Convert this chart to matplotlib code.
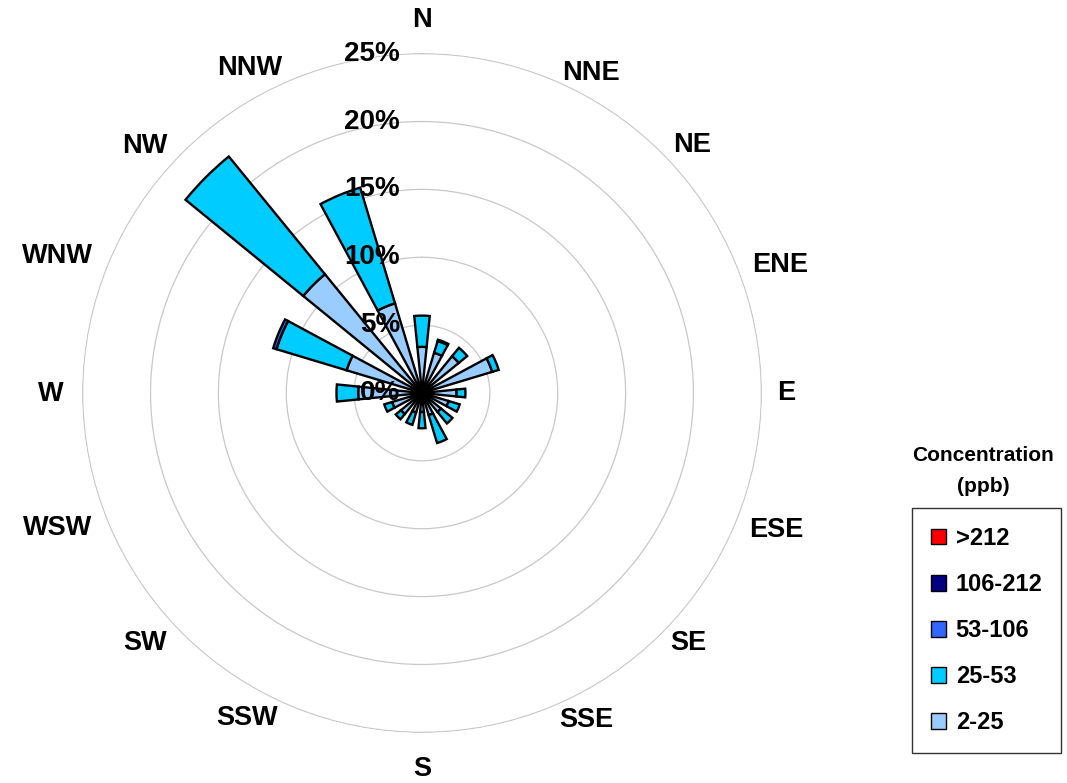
import numpy as np
import matplotlib.pyplot as plt
from matplotlib.patches import Patch

plt.rcParams['font.family'] = ['Liberation Sans', 'DejaVu Sans']
plt.rcParams['font.weight'] = 'bold'

# wind directions (clockwise from north)
directions = ['N', 'NNE', 'NE', 'ENE', 'E', 'ESE', 'SE', 'SSE',
              'S', 'SSW', 'SW', 'WSW', 'W', 'WNW', 'NW', 'NNW']

# frequency (%) per concentration bin, stacked outward from the centre
bins = ['2-25', '25-53', '53-106', '106-212', '>212']
freq_2_25 = [3.4, 3.1, 3.5, 5.4, 2.55, 2.05, 1.8, 1.7,
             1.4, 1.5, 2.0, 2.3, 4.7, 5.8, 11.3, 6.9]
freq_25_53 = [2.3, 0.9, 0.8, 0.5, 0.65, 0.85, 1.1, 2.15,
              1.2, 0.95, 0.5, 0.6, 1.6, 5.4, 11.2, 8.9]
freq_53_106 = [0.0, 0.1, 0.0, 0.0, 0.0, 0.0, 0.0, 0.0,
               0.0, 0.0, 0.0, 0.0, 0.0, 0.25, 0.0, 0.0]
freq_106_212 = [0.0] * 16
freq_gt_212 = [0.0] * 16

radial_ticks = [0, 5, 10, 15, 20, 25]

colors = {'2-25': '#99CCFF', '25-53': '#00CCFF', '53-106': '#3366FF',
          '106-212': '#000080', '>212': '#FF0000'}

# label centres in pixels (measured on the 1067x783 canvas)
label_xy = [(422, 20), (591, 73), (692, 145), (780, 265), (786, 393),
            (776, 530), (688, 643), (586, 720), (422, 769), (247, 718),
            (145, 643), (58, 528), (51, 394), (57, 256), (145, 146),
            (250, 68)]

W, H = 1067, 783
fig = plt.figure(figsize=(W / 100, H / 100), dpi=100)
cx, cy, rad = 422, 393, 340
ax = fig.add_axes([(cx - rad) / W, (H - cy - rad) / H, 2 * rad / W, 2 * rad / H],
                  projection='polar')
ax.set_theta_zero_location('N')
ax.set_theta_direction(-1)

theta = np.deg2rad(np.arange(16) * 22.5)
width = np.deg2rad(11.5)

series = [freq_2_25, freq_25_53, freq_53_106, freq_106_212, freq_gt_212]
bottom = np.zeros(16)
for name, vals in zip(bins, series):
    vals = np.array(vals)
    mask = vals > 0
    ax.bar(theta[mask], vals[mask], width=width, bottom=bottom[mask],
           color=colors[name], edgecolor='black', linewidth=1.7, zorder=3)
    bottom = bottom + vals

ax.set_ylim(0, 25.05)
ax.set_yticks(radial_ticks[1:])
ax.set_yticklabels([])
ax.set_xticks(theta)
ax.set_xticklabels([])
ax.tick_params(length=0)
ax.grid(True, color='#C8C8C8', linewidth=0.9)
ax.xaxis.grid(False)
ax.spines['polar'].set_visible(False)

for r in radial_ticks:
    ax.annotate('{}%'.format(r), xy=(0, r), xytext=(-22, 0),
                textcoords='offset pixels', ha='right', va='center',
                fontsize=20, fontweight='bold', zorder=10)

for name, (x, y) in zip(directions, label_xy):
    fig.text(x / W, 1 - y / H, name, ha='center', va='center',
             fontsize=19.5, fontweight='bold')

fig.text(983 / W, 1 - 471 / H, 'Concentration\n(ppb)', ha='center',
         va='center', fontsize=15, fontweight='bold', linespacing=1.75)

handles = [Patch(facecolor=colors[b], edgecolor='black', label=b)
           for b in reversed(bins)]
leg = fig.legend(handles=handles, loc='upper left',
                 bbox_to_anchor=(912 / W, 1 - 508 / H),
                 frameon=True, fancybox=False, edgecolor='black',
                 prop={'size': 17, 'weight': 'bold'},
                 handlelength=0.65, handleheight=0.65, handletextpad=0.4,
                 labelspacing=0.98, borderpad=0.8, borderaxespad=0)
leg.get_frame().set_linewidth(1)

fig.savefig('out.png', dpi=100)
